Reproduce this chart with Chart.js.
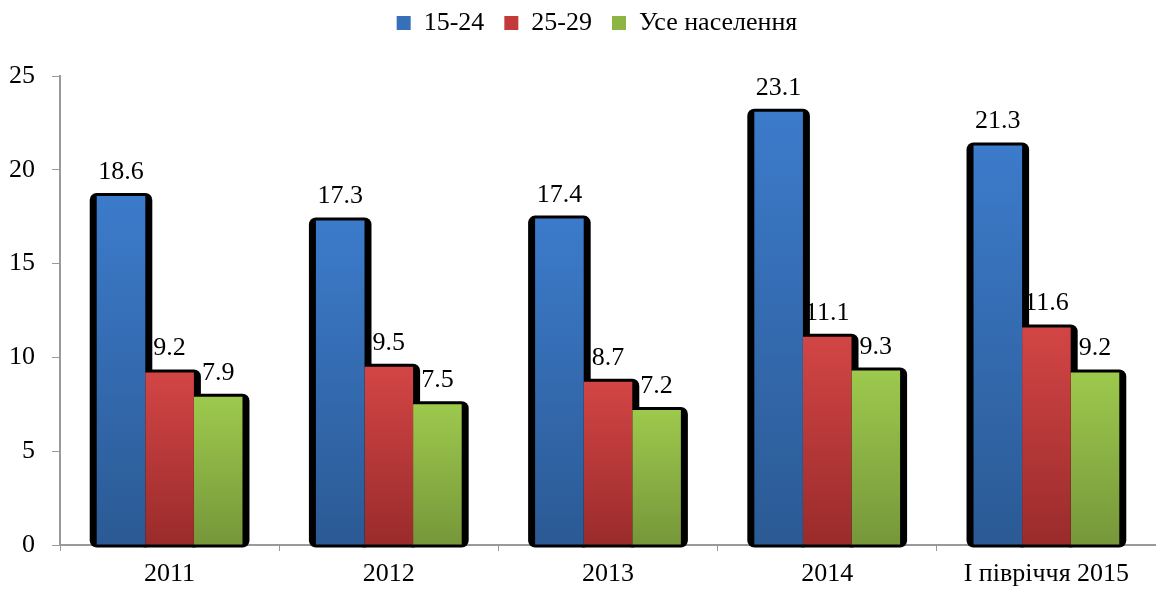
<!DOCTYPE html>
<html>
<head>
<meta charset="utf-8">
<script src="https://cdn.jsdelivr.net/npm/chart.js@4/dist/chart.umd.min.js"></script>
<style>
  html, body { margin: 0; padding: 0; background: #fff; }
  #wrap { width: 1156px; height: 590px; }
</style>
</head>
<body>
<div id="wrap"><canvas id="chart"></canvas></div>
<script>
const categories = ['2011', '2012', '2013', '2014', 'І півріччя 2015'];
const age1524 = [18.6, 17.3, 17.4, 23.1, 21.3];
const age2529 = [9.2, 9.5, 8.7, 11.1, 11.6];
const allPop = [7.9, 7.5, 7.2, 9.3, 9.2];
const seriesNames = ['15-24', '25-29', 'Усе населення'];
const yTicks = [0, 5, 10, 15, 20, 25];

const topColors = ['#3c7bcb', '#d34545', '#9dc94d'];
const bottomColors = ['#2b5a94', '#9a2b2b', '#76973a'];
const legendColors = ['#3570b8', '#c23a3a', '#8cb544'];

const FONT = "'Liberation Serif', 'Times New Roman', serif";

function barGradient(i) {
  return (ctx) => {
    const chart = ctx.chart;
    const y = chart.scales.y;
    if (!y || ctx.raw == null) return topColors[i];
    const top = y.getPixelForValue(ctx.raw);
    const base = y.getPixelForValue(0);
    const g = chart.ctx.createLinearGradient(0, top, 0, base);
    g.addColorStop(0, topColors[i]);
    g.addColorStop(1, bottomColors[i]);
    return g;
  };
}

// black rounded "shadow" behind each bar
const barShadow = {
  id: 'barShadow',
  beforeDatasetsDraw(chart) {
    const ctx = chart.ctx;
    ctx.save();
    ctx.fillStyle = '#000';
    chart.data.datasets.forEach((ds, di) => {
      chart.getDatasetMeta(di).data.forEach((bar) => {
        const left = bar.x - bar.width / 2 - 7;
        const right = bar.x + bar.width / 2 + 7;
        const top = bar.y - 3;
        const bottom = bar.base + 3;
        ctx.beginPath();
        ctx.roundRect(left, top, right - left, bottom - top, 7);
        ctx.fill();
      });
    });
    ctx.restore();
  }
};

const valueLabels = {
  id: 'valueLabels',
  afterDatasetsDraw(chart) {
    const ctx = chart.ctx;
    ctx.save();
    ctx.font = '26px ' + FONT;
    ctx.fillStyle = '#000';
    ctx.textAlign = 'center';
    ctx.textBaseline = 'alphabetic';
    chart.data.datasets.forEach((ds, di) => {
      chart.getDatasetMeta(di).data.forEach((bar, i) => {
        ctx.fillText(ds.data[i].toFixed(1), bar.x, bar.y - 17);
      });
    });
    ctx.restore();
  }
};

// legend sits a bit right of centre and leaves a gap above the plot
const legendTweak = {
  id: 'legendTweak',
  beforeInit(chart) {
    const fit = chart.legend.fit;
    chart.legend.fit = function () {
      fit.call(this);
      this.height += 30;
    };
  },
  afterLayout(chart) {
    chart.legend.left += 17;
    chart.legend.right += 17;
  }
};

new Chart(document.getElementById('chart'), {
  type: 'bar',
  data: {
    labels: categories,
    datasets: [age1524, age2529, allPop].map((d, i) => ({
      label: seriesNames[i],
      data: d,
      backgroundColor: barGradient(i),
      borderWidth: 0,
      categoryPercentage: 0.665,
      barPercentage: 1
    }))
  },
  options: {
    responsive: true,
    maintainAspectRatio: false,
    animation: false,
    layout: { padding: { top: -10, right: -4, left: 0, bottom: 0 } },
    plugins: {
      legend: {
        position: 'top',
        labels: {
          font: { family: FONT, size: 26 },
          color: '#000',
          boxWidth: 14,
          boxHeight: 14,
          padding: 20,
          generateLabels: () => seriesNames.map((n, i) => ({
            text: n,
            fillStyle: legendColors[i],
            strokeStyle: legendColors[i],
            lineWidth: 0,
            datasetIndex: i
          }))
        }
      },
      tooltip: { enabled: false }
    },
    scales: {
      x: {
        offset: true,
        z: 1,
        afterFit: (s) => { s.height = 45; },
        grid: { display: true, drawOnChartArea: false, drawTicks: true, tickLength: 6, color: '#999', offset: true },
        border: { display: true, color: '#999', width: 2 },
        ticks: { font: { family: FONT, size: 26 }, color: '#000', padding: 8 }
      },
      y: {
        min: 0,
        max: 25,
        afterFit: (s) => { s.width = 60; },
        afterBuildTicks: (s) => { s.ticks = yTicks.map((v) => ({ value: v })); },
        grid: { display: true, drawOnChartArea: false, drawTicks: true, tickLength: 8, color: '#999' },
        border: { display: true, color: '#999', width: 2 },
        ticks: { font: { family: FONT, size: 26 }, color: '#000', padding: 17 }
      }
    }
  },
  plugins: [barShadow, valueLabels, legendTweak]
});
</script>
</body>
</html>
